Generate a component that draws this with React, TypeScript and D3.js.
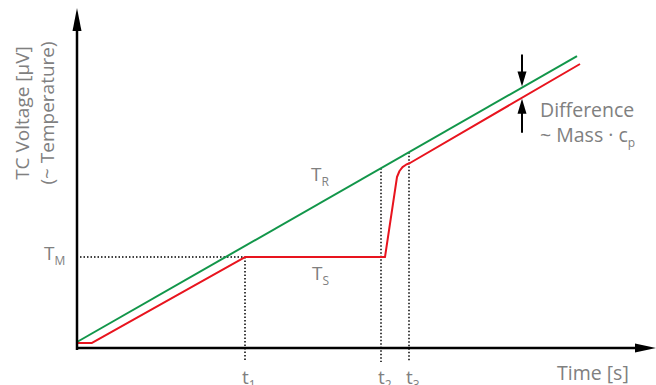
import React from "react";
import * as d3 from "d3";

const W = 656;
const H = 385;

// Reference (TR) – green
const refLine: [number, number][] = [
  [0, 2],
  [100, 97.3],
];
// Sample (TS) – red
const sampleLine: [number, number][] = [
  [0, 1.67],
  [3, 1.67],
  [33.6, 30.33],
  [61.6, 30.33],
  [64, 57],
  [64.5, 59],
  [65.1, 60.3],
  [65.8, 61.1],
  [66.6, 61.67],
  [100.6, 94.67],
];
const tM = 30.33;
const tMarks = [
  { t: 33.6, label: "1", top: tM },
  { t: 60.8, label: "2", top: null },
  { t: 66.4, label: "3", top: null },
];
const diffT = 89;

const x = d3.scaleLinear().domain([0, 100]).range([77, 577]);
const y = d3.scaleLinear().domain([0, 100]).range([348, 48]);

const interp = (pts: [number, number][], t: number) => {
  for (let i = 0; i < pts.length - 1; i++) {
    const [x0, y0] = pts[i];
    const [x1, y1] = pts[i + 1];
    if (t >= x0 && t <= x1) return y0 + ((t - x0) / (x1 - x0)) * (y1 - y0);
  }
  return pts[pts.length - 1][1];
};

const line = d3
  .line<[number, number]>()
  .x((d) => x(d[0]))
  .y((d) => y(d[1]));

const GRAY = "#808080";
const FONT = "'Open Sans', sans-serif";

export default function App() {
  const ax0 = x(0);
  const ay0 = y(0);
  const dx = x(diffT);
  const gY = y(interp(refLine, diffT));
  const rY = y(interp(sampleLine, diffT));
  return (
    <svg
      width={W}
      height={H}
      style={{ position: "absolute", left: 0, top: 0 }}
      fontFamily={FONT}
    >
      {/* dotted guides */}
      <g stroke="#000" strokeWidth={1.5} strokeDasharray="1.5,2" fill="none">
        <line x1={ax0 + 3} x2={x(33.6)} y1={y(tM)} y2={y(tM)} />
        {tMarks.map((m) => (
          <line
            key={m.label}
            x1={x(m.t)}
            x2={x(m.t)}
            y1={y(m.top !== null ? m.top : interp(refLine, m.t))}
            y2={ay0 + 14}
          />
        ))}
      </g>
      {/* curves */}
      <path d={line(refLine) || ""} fill="none" stroke="#12964a" strokeWidth={2} />
      <path d={line(sampleLine) || ""} fill="none" stroke="#e8141e" strokeWidth={2} strokeLinejoin="round" />
      {/* axes */}
      <g stroke="#000" strokeWidth={2.5}>
        <line x1={ax0} x2={ax0} y1={ay0 + 2} y2={28} />
        <line x1={ax0 - 1} x2={W - 18} y1={ay0} y2={ay0} />
      </g>
      <polygon points={`${ax0},8 ${ax0 - 4.5},31 ${ax0 + 4.5},31`} fill="#000" />
      <polygon points={`${W},${ay0} ${W - 21},${ay0 - 4.5} ${W - 21},${ay0 + 4.5}`} fill="#000" />
      {/* difference arrows */}
      <g stroke="#000" strokeWidth={2}>
        <line x1={dx} x2={dx} y1={gY - 33} y2={gY - 14} />
        <line x1={dx} x2={dx} y1={rY + 14} y2={rY + 35} />
      </g>
      <polygon points={`${dx},${gY - 1} ${dx - 4.5},${gY - 16} ${dx + 4.5},${gY - 16}`} fill="#000" />
      <polygon points={`${dx},${rY + 1} ${dx - 4.5},${rY + 16} ${dx + 4.5},${rY + 16}`} fill="#000" />
      {/* texts */}
      <g fill={GRAY}>
        <text x={540} y={117} fontSize={19.5}>Difference</text>
        <text x={540} y={142} fontSize={19.5}>
          ~ Mass · c
          <tspan fontSize={12} dy={5}>p</tspan>
        </text>
        <text x={311} y={181} fontSize={19}>
          T<tspan fontSize={12} dy={5}>R</tspan>
        </text>
        <text x={312} y={280} fontSize={19}>
          T<tspan fontSize={12} dy={5}>S</tspan>
        </text>
        <text x={44} y={260} fontSize={19}>
          T<tspan fontSize={12} dy={5}>M</tspan>
        </text>
        {tMarks.map((m) => (
          <text key={m.label} x={x(m.t) - 3} y={384} fontSize={19}>
            t<tspan fontSize={12} dy={5}>{m.label}</tspan>
          </text>
        ))}
        <text x={557} y={380} fontSize={19.5}>Time [s]</text>
        <text transform="translate(29,113) rotate(-90)" textAnchor="middle" fontSize={19}>
          TC Voltage [µV]
        </text>
        <text transform="translate(54,113) rotate(-90)" textAnchor="middle" fontSize={19}>
          (~ Temperature)
        </text>
      </g>
    </svg>
  );
}
